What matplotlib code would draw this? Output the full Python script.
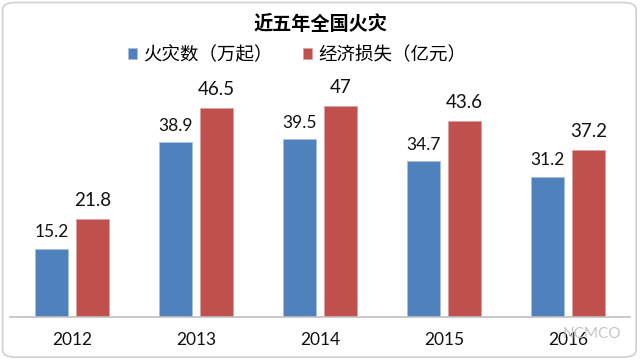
import matplotlib

matplotlib.use("Agg")
import matplotlib.pyplot as plt
import numpy as np
from matplotlib.patches import FancyBboxPatch

plt.rcParams["font.family"] = ["Lato", "Noto Sans CJK SC", "DejaVu Sans"]

years = ["2012", "2013", "2014", "2015", "2016"]
fires = [15.2, 38.9, 39.5, 34.7, 31.2]
losses = [21.8, 46.5, 47, 43.6, 37.2]
fire_label = "火灾数（万起）"
loss_label = "经济损失（亿元）"
title = "近五年全国火灾"

BLUE = "#4F81BD"
RED = "#C0504D"

fig = plt.figure(figsize=(6.4, 3.6), dpi=100)
fig.patch.set_facecolor("white")

# rounded frame around the whole chart
frame = FancyBboxPatch((0.004, 0.008), 0.99, 0.985,
                       boxstyle="round,pad=0,rounding_size=0.02",
                       transform=fig.transFigure, facecolor="white",
                       edgecolor="#D0D0D0", linewidth=1.2, zorder=-5)
fig.patches.append(frame)

ax = fig.add_axes([10 / 640, 43 / 360, 620 / 640, 270 / 360])
ax.set_facecolor("none")

x = np.arange(len(years))
width = 0.266
gap = 0.065
off = (width + gap) / 2
b1 = ax.bar(x - off, fires, width, color=BLUE, edgecolor="#A9C0DE", linewidth=0.6, label=fire_label)
b2 = ax.bar(x + off, losses, width, color=RED, edgecolor="#DDA09E", linewidth=0.6, label=loss_label)

ax.bar_label(b1, labels=[f"{v:g}" for v in fires], padding=6, fontsize=12.5, color="#111111")
ax.bar_label(b2, labels=[f"{v:g}" for v in losses], padding=7, fontsize=13.5, color="#111111")

ax.set_xlim(-0.5, len(years) - 0.5)
ax.set_ylim(0, 60)
ax.set_yticks([])
ax.set_xticks(x, years, fontsize=12.5)
ax.tick_params(axis="x", length=0, pad=11, colors="#111111")
for side in ["top", "right", "left"]:
    ax.spines[side].set_visible(False)
ax.spines["bottom"].set_color("#BFBFBF")
ax.spines["bottom"].set_linewidth(1.2)

fig.text(320 / 640, 336 / 360, title, ha="center", va="center", fontsize=13.8,
         fontweight="bold", family=["Noto Sans CJK SC", "DejaVu Sans"])

fig.legend(handles=[b1, b2], loc="center", bbox_to_anchor=(297 / 640, 305 / 360),
           ncol=2, frameon=False, handlelength=0.5, handleheight=0.5,
           handletextpad=0.35, columnspacing=1.6,
           prop={"family": ["Noto Sans CJK SC", "DejaVu Sans"], "size": 13.3})

# watermark
fig.text(592 / 640, 26 / 360, "NCMCO", ha="center", va="center", fontsize=11,
         color="#C4C4C4", zorder=5)

fig.savefig("out.png", dpi=100)
plt.close(fig)
